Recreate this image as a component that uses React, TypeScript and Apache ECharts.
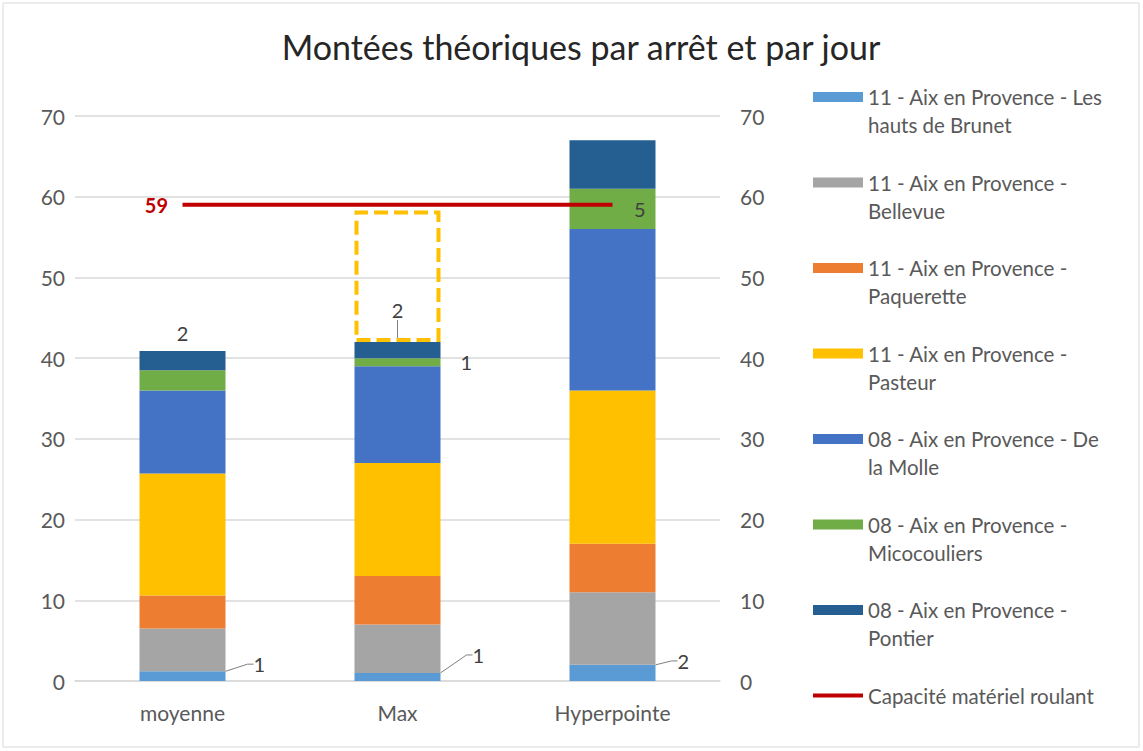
import React, { useEffect, useRef } from "react";
import * as echarts from "echarts";

const categories = ["moyenne", "Max", "Hyperpointe"];
const seriesNames = [
  "11 - Aix en Provence - Les hauts de Brunet",
  "11 - Aix en Provence - Bellevue",
  "11 - Aix en Provence - Paquerette",
  "11 - Aix en Provence - Pasteur",
  "08 - Aix en Provence - De la Molle",
  "08 - Aix en Provence - Micocouliers",
  "08 - Aix en Provence - Pontier",
];
const legendLines = [
  "11 - Aix en Provence - Les\nhauts de Brunet",
  "11 - Aix en Provence -\nBellevue",
  "11 - Aix en Provence -\nPaquerette",
  "11 - Aix en Provence -\nPasteur",
  "08 - Aix en Provence - De\nla Molle",
  "08 - Aix en Provence -\nMicocouliers",
  "08 - Aix en Provence -\nPontier",
];
const hautsDeBrunet = [1.2, 1, 2];
const bellevue = [5.3, 6, 9];
const paquerette = [4.1, 6, 6];
const pasteur = [15.1, 14, 19];
const deLaMolle = [10.3, 12, 20];
const micocouliers = [2.5, 1, 5];
const pontier = [2.4, 2, 6];
const capaciteName = "Capacité matériel roulant";
const capacite = [59, 59, 59];
const margeMax = [null, 16.3, null];
const yMin = 0;
const yMax = 70;
const yInterval = 10;

const colors = ["#5B9BD5", "#A5A5A5", "#ED7D31", "#FFC000", "#4472C4", "#70AD47", "#255E91"];
const values = [hautsDeBrunet, bellevue, paquerette, pasteur, deLaMolle, micocouliers, pontier];

// which data points carry a value label, and how
const labelStyle: Record<string, any> = {
  "0-0": { position: "right", distance: 4, layout: { dx: 24, dy: -12 }, line: true },
  "0-1": { position: "right", distance: 4, layout: { dx: 28, dy: -22 }, line: true },
  "0-2": { position: "right", distance: 4, layout: { dx: 18, dy: -12 }, line: true },
  "5-1": { position: "right", distance: 20 },
  "5-2": { position: "insideRight", distance: 10 },
  "6-0": { position: "top", distance: 8 },
  "6-1": { position: "top", distance: 2, layout: { dy: -20 }, line: true },
};

const FONT = "Lato, 'Noto Sans', sans-serif";
const TXT = "#595959";
const LINE_ICON =
  "path://M0,0 L0.01,0 L0.01,0.01 Z M0,3 L50,3 L50,7 L0,7 Z M0,10 L0.01,10 L0.01,9.99 Z";

export default function App() {
  const ref = useRef<HTMLDivElement>(null);
  useEffect(() => {
    if (!ref.current) return;
    const chart = echarts.init(ref.current, null, { renderer: "svg" });

    const barSeries: any[] = values.map((vals, si) => ({
      name: seriesNames[si],
      type: "bar",
      stack: "total",
      barWidth: "40%",
      itemStyle: { color: colors[si] },
      labelLayout: (p: any) => {
        const s = labelStyle[`${si}-${p.dataIndex}`];
        return s && s.layout ? s.layout : {};
      },
      data: vals.map((v, di) => {
        const s = labelStyle[`${si}-${di}`];
        const item: any = { value: v };
        if (s) {
          item.label = {
            show: true,
            position: s.position,
            distance: s.distance,
            color: "#404040",
            fontSize: 20,
            fontFamily: FONT,
            formatter: (p: any) => String(Math.round(p.value)),
          };
          if (s.line) {
            item.labelLine = { show: true, length2: 6, lineStyle: { color: "#7f7f7f", width: 1 } };
          }
        }
        return item;
      }),
    }));

    chart.setOption({
      animation: false,
      backgroundColor: "#ffffff",
      title: {
        text: "Montées théoriques par arrêt et par jour",
        left: 576,
        top: 24,
        textAlign: "center",
        textStyle: { fontFamily: FONT, fontSize: 34, fontWeight: "normal", color: "#262626" },
      },
      legend: {
        orient: "vertical",
        left: 808,
        top: 50,
        itemWidth: 50,
        itemHeight: 10,
        itemGap: 1.5,
        selectedMode: false,
        data: [
          ...seriesNames.map((n) => ({ name: n, icon: "rect" })),
          { name: capaciteName, icon: LINE_ICON },
        ],
        formatter: (name: string) => {
          const i = seriesNames.indexOf(name);
          return " \n" + (i >= 0 ? legendLines[i] : name + "\n ");
        },
        textStyle: {
          fontFamily: FONT,
          fontSize: 20.5,
          color: TXT,
          lineHeight: 28,
        },
      },
      grid: { left: 75, right: 423, top: 116, bottom: 70 },
      xAxis: {
        type: "category",
        data: categories,
        axisTick: { show: false },
        axisLine: { lineStyle: { color: "#d9d9d9", width: 1.5 } },
        axisLabel: { color: TXT, fontFamily: FONT, fontSize: 21, margin: 21 },
      },
      yAxis: [
        {
          type: "value",
          min: yMin,
          max: yMax,
          interval: yInterval,
          axisLine: { show: false },
          axisTick: { show: false },
          splitLine: { lineStyle: { color: "#d9d9d9", width: 1.5 } },
          axisLabel: { color: TXT, fontFamily: FONT, fontSize: 21, margin: 10 },
        },
        {
          type: "value",
          min: yMin,
          max: yMax,
          interval: yInterval,
          position: "right",
          axisLine: { show: false },
          axisTick: { show: false },
          splitLine: { show: false },
          axisLabel: { color: TXT, fontFamily: FONT, fontSize: 21, margin: 20 },
        },
      ],
      series: [
        ...barSeries,
        {
          name: "Marge",
          type: "bar",
          stack: "total",
          barWidth: "40%",
          data: margeMax,
          itemStyle: {
            color: "rgba(0,0,0,0)",
            borderColor: "#FFC000",
            borderWidth: 4,
            borderType: [14, 6],
          },
          z: 3,
        },
        {
          name: capaciteName,
          type: "line",
          data: capacite,
          symbol: "none",
          showSymbol: false,
          lineStyle: { color: "#C00000", width: 4 },
          itemStyle: { color: "#C00000" },
          z: 5,
        },
        {
          name: "capLabel",
          type: "line",
          data: capacite.map((v, i) => (i === 0 ? v : null)),
          symbol: "circle",
          symbolSize: 1,
          itemStyle: { color: "rgba(0,0,0,0)" },
          lineStyle: { opacity: 0 },
          z: 6,
          label: {
            show: true,
            position: "left",
            distance: 14,
            color: "#C00000",
            fontWeight: "bold",
            fontSize: 20,
            fontFamily: FONT,
          },
        },
      ],
      graphic: [
        {
          type: "rect",
          shape: { x: 3, y: 3, width: 1136, height: 744 },
          style: { fill: "none", stroke: "#d9d9d9", lineWidth: 1 },
          silent: true,
        },
      ],
    });
    return () => chart.dispose();
  }, []);

  return (
    <div
      ref={ref}
      style={{ position: "fixed", left: 0, top: 0, width: 1143, height: 751, background: "#fff" }}
    />
  );
}
